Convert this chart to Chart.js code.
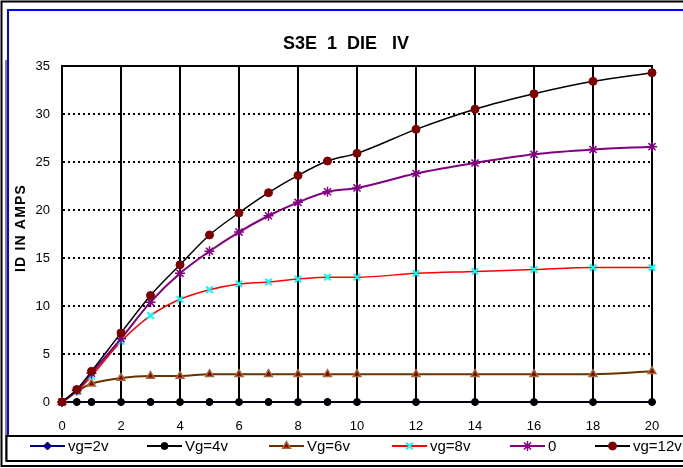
<!DOCTYPE html>
<html>
<head>
<meta charset="utf-8">
<script src="https://cdn.jsdelivr.net/npm/chart.js@4.4.0/dist/chart.umd.min.js"></script>
<style>
    html, body { margin: 0; padding: 0; background: #fff; overflow: hidden; }
    canvas { display: block; }
</style>
</head>
<body>
<canvas id="ivChart" width="683" height="468"></canvas>
<script>
// drain voltage (x) and drain current in amps for each gate voltage
const vdValues = [0, 0.5, 1, 2, 3, 4, 5, 6, 7, 8, 9, 10, 12, 14, 16, 18, 20];
const seriesNames = ['vg=2v', 'Vg=4v', 'Vg=6v', 'vg=8v', '0', 'vg=12v'];
const vg2 = [0, 0, 0, 0, 0, 0, 0, 0, 0, 0, 0, 0, 0, 0, 0, 0, 0];
const vg4 = [0, 0, 0, 0, 0, 0, 0, 0, 0, 0, 0, 0, 0, 0, 0, 0, 0];
const vg6 = [0, 1.1, 1.9, 2.5, 2.7, 2.7, 2.9, 2.9, 2.9, 2.9, 2.9, 2.9, 2.9, 2.9, 2.9, 2.9, 3.2];
const vg8 = [0, 1.1, 2.7, 6.3, 9.0, 10.7, 11.7, 12.3, 12.5, 12.8, 13.0, 13.0, 13.4, 13.6, 13.8, 14.0, 14.0];
const vg10 = [0, 1.2, 3.0, 6.6, 10.4, 13.4, 15.7, 17.7, 19.4, 20.8, 21.9, 22.3, 23.8, 24.9, 25.8, 26.3, 26.6];
const vg12 = [0, 1.3, 3.2, 7.2, 11.1, 14.3, 17.4, 19.7, 21.8, 23.6, 25.1, 25.9, 28.4, 30.5, 32.1, 33.4, 34.3];
const xTicks = [0, 2, 4, 6, 8, 10, 12, 14, 16, 18, 20];
const yTicks = [0, 5, 10, 15, 20, 25, 30, 35];

const FONT = "'Liberation Sans', Arial, sans-serif";

function toPoints(values) {
    return vdValues.map((x, i) => ({ x: x, y: values[i] }));
}

// look of each series, same order as seriesNames
const styles = [
    { line: '#000080', width: 1.5, point: 'rectRot', radius: 4, fill: '#000080', edge: '#000080', edgeWidth: 1 },
    { line: '#000000', width: 1.5, point: 'circle', radius: 3.5, fill: '#000000', edge: '#000000', edgeWidth: 1 },
    { line: '#663300', width: 2, point: 'triangle', radius: 4.5, fill: '#800000', edge: '#a86a34', edgeWidth: 1.5 },
    { line: '#ff0000', width: 1.5, point: 'crossRot', radius: 4.5, fill: '#00ffff', edge: '#00ffff', edgeWidth: 2 },
    { line: '#800080', width: 2, point: 'star', radius: 5, fill: '#800080', edge: '#800080', edgeWidth: 1.5 },
    { line: '#000000', width: 1.5, point: 'circle', radius: 4, fill: '#800000', edge: '#800000', edgeWidth: 1 }
];

const allValues = [vg2, vg4, vg6, vg8, vg10, vg12];

const datasets = allValues.map((values, i) => ({
    label: seriesNames[i],
    data: toPoints(values),
    borderColor: styles[i].line,
    borderWidth: styles[i].width,
    pointStyle: styles[i].point,
    pointRadius: styles[i].radius,
    pointBackgroundColor: styles[i].fill,
    pointBorderColor: styles[i].edge,
    pointBorderWidth: styles[i].edgeWidth,
    cubicInterpolationMode: 'monotone',
    fill: false,
    clip: false,
    order: allValues.length - i   // later series on top, like the original
}));

// frames, title and axis title drawn round the plot
const decorPlugin = {
    id: 'decor',
    beforeDraw(chart) {
        const ctx = chart.ctx;
        ctx.save();
        ctx.fillStyle = '#ffffff';
        ctx.fillRect(0, 0, chart.width, chart.height);

        // outer black frame
        ctx.strokeStyle = '#000000';
        ctx.lineWidth = 2;
        ctx.strokeRect(1.5, 1.5, 720, 464.5);
        ctx.lineWidth = 1;
        ctx.beginPath();
        ctx.moveTo(6, 60);
        ctx.lineTo(6, 461);
        ctx.stroke();

        // blue chart border
        ctx.strokeStyle = '#0000ff';
        ctx.lineWidth = 2;
        ctx.beginPath();
        ctx.moveTo(8, 436);
        ctx.lineTo(8, 10);
        ctx.lineTo(700, 10);
        ctx.stroke();

        // title
        ctx.fillStyle = '#000000';
        ctx.font = 'bold 18px ' + FONT;
        ctx.textAlign = 'center';
        ctx.textBaseline = 'alphabetic';
        ctx.fillText('S3E  1  DIE   IV', 346, 49);

        // y axis title
        ctx.translate(25, 228);
        ctx.rotate(-Math.PI / 2);
        ctx.font = 'bold 14px ' + FONT;
        if ('letterSpacing' in ctx) ctx.letterSpacing = '1.2px';
        ctx.textAlign = 'center';
        ctx.textBaseline = 'alphabetic';
        ctx.fillText('ID IN AMPS', 0, 0);
        ctx.restore();
    },
    beforeDatasetsDraw(chart) {
        // solid top edge of the plot
        const ctx = chart.ctx;
        const area = chart.chartArea;
        ctx.save();
        ctx.strokeStyle = '#000000';
        ctx.lineWidth = 2;
        ctx.beginPath();
        ctx.moveTo(area.left, area.top);
        ctx.lineTo(area.right + 1, area.top);
        ctx.stroke();
        ctx.restore();
    },
    afterDraw(chart) {
        // legend box with line + marker samples
        const ctx = chart.ctx;
        ctx.save();
        ctx.strokeStyle = '#000000';
        ctx.lineWidth = 2;
        ctx.strokeRect(6.5, 436, 720, 25);

        const itemX = [30, 147, 269, 392, 510, 595];
        const y = 446;
        chart.data.datasets.forEach((ds, i) => {
            const x0 = itemX[i];
            ctx.strokeStyle = ds.borderColor;
            ctx.lineWidth = 2;
            ctx.beginPath();
            ctx.moveTo(x0, y);
            ctx.lineTo(x0 + 35, y);
            ctx.stroke();

            ctx.fillStyle = ds.pointBackgroundColor;
            ctx.strokeStyle = ds.pointBorderColor;
            ctx.lineWidth = ds.pointBorderWidth;
            Chart.helpers.drawPoint(ctx, {
                pointStyle: ds.pointStyle,
                radius: ds.pointRadius,
                borderWidth: ds.pointBorderWidth,
                rotation: 0
            }, x0 + 17.5, y);

            ctx.fillStyle = '#000000';
            ctx.font = '15px ' + FONT;
            ctx.textAlign = 'left';
            ctx.textBaseline = 'middle';
            ctx.fillText(ds.label, x0 + 38, y + 1);
        });
        ctx.restore();
    }
};

const ctx = document.getElementById('ivChart').getContext('2d');

new Chart(ctx, {
    type: 'line',
    data: { datasets: datasets },
    options: {
        responsive: false,
        animation: false,
        devicePixelRatio: 1,
        layout: {
            padding: { left: 8, right: 31, top: 66, bottom: 36 }
        },
        plugins: {
            legend: { display: false },
            title: { display: false },
            tooltip: { enabled: false }
        },
        scales: {
            x: {
                type: 'linear',
                min: 0,
                max: 20,
                afterBuildTicks: scale => { scale.ticks = xTicks.map(v => ({ value: v })); },
                afterFit: scale => { scale.height = 30; },
                ticks: {
                    color: '#000000',
                    font: { family: FONT, size: 13 },
                    padding: 17,
                    maxRotation: 0
                },
                grid: {
                    color: '#000000',
                    lineWidth: 2,
                    drawTicks: false
                },
                border: { display: true, color: '#000000', width: 2 }
            },
            y: {
                type: 'linear',
                min: 0,
                max: 35,
                afterBuildTicks: scale => { scale.ticks = yTicks.map(v => ({ value: v })); },
                afterFit: scale => { scale.width = 54; },
                ticks: {
                    color: '#000000',
                    font: { family: FONT, size: 13 },
                    padding: 12
                },
                grid: {
                    color: c => (c.tick && (c.tick.value === 0 || c.tick.value === 35)) ? 'rgba(0,0,0,0)' : '#000000',
                    lineWidth: 2,
                    drawTicks: false
                },
                border: { display: true, color: '#000000', width: 2, dash: [2, 3] }
            }
        }
    },
    plugins: [decorPlugin]
});
</script>
</body>
</html>
